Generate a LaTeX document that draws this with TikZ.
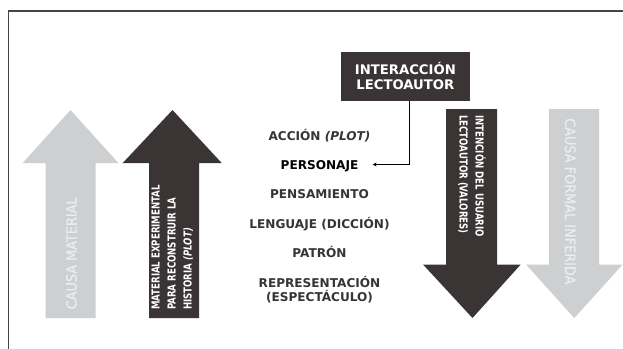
\documentclass[tikz,border=0pt]{standalone}
\usepackage{fontspec}
\setmainfont{DejaVu Sans}
\newfontfamily\condf{DejaVu Sans Condensed}[FakeBold=1.2]
\newfontfamily\narrowf{DejaVu Sans Condensed}[FakeStretch=0.87]
\usetikzlibrary{arrows.meta}
\definecolor{darkfill}{HTML}{3A3435}
\definecolor{lightfill}{HTML}{CDCFD1}
\definecolor{lighttext}{HTML}{EBECED}
\definecolor{labeltext}{HTML}{353535}
\definecolor{framecol}{HTML}{444444}
\begin{document}
\begin{tikzpicture}[x=1pt,y=-1pt,
  lbl/.style={font=\fontsize{12.1}{14}\selectfont\bfseries, text=labeltext, inner sep=0pt, align=center, anchor=base},
  uptext/.style={rotate=90, anchor=base west, inner sep=0pt},
  downtext/.style={rotate=-90, anchor=base west, inner sep=0pt},
  graytext/.style={font=\condf\fontsize{14.3}{16}\selectfont, text=lighttext},
  darktext/.style={font=\narrowf\fontsize{11}{16}\selectfont\bfseries, text=white, align=left}
]
\useasboundingbox (0,0) rectangle (623,348);
\fill[white] (0,0) rectangle (623,348);
% frame
\draw[framecol, line width=1.3pt] (8.3,360) -- (8.3,11) -- (640,11);

% up arrows
\fill[lightfill] (70.5,110) -- (118.3,163) -- (95.7,163) -- (95.7,318) -- (45.7,318) -- (45.7,163) -- (22.7,163) -- cycle;
\fill[darkfill] (172.5,110) -- (221.7,163) -- (199,163) -- (199,318) -- (149,318) -- (149,163) -- (122.7,163) -- cycle;
% down arrows
\fill[darkfill] (446,109) -- (497,109) -- (497,264.5) -- (520.7,264.5) -- (472.5,318) -- (423,264.5) -- (446,264.5) -- cycle;
\fill[lightfill] (549,109) -- (599,109) -- (599,264.5) -- (622.7,264.5) -- (574.3,318) -- (526,264.5) -- (549,264.5) -- cycle;

% arrow texts
\node[uptext, graytext] (cm) at (76.7,309.5) {CAUSA MATERIAL};
\node[uptext, darktext] (me) at (191.5,310) {MATERIAL EXPERIMENTAL\\PARA RECONSTRUIR LA\\HISTORIA \textit{(PLOT)}};
\node[downtext, darktext] (iu) at (459.5,115) {INTENCIÓN DEL USUARIO\\LECTOAUTOR (VALORES)};
\node[downtext, graytext] (cf) at (565,118) {CAUSA FORMAL INFERIDA};

% box
\node[fill=darkfill, text=white, font=\fontsize{13.2}{15.5}\selectfont\bfseries, align=center,
      minimum width=129.3pt, minimum height=49pt, inner sep=0pt] (box) at (405.35,76.2) {INTERACCIÓN\\LECTOAUTOR};

% middle labels
\node[lbl] (acc) at (319.5,140) {ACCIÓN \textit{(PLOT)}};
\node[lbl, text=black] (pers) at (319.5,169) {PERSONAJE};
\node[lbl] (pens) at (319.5,198.3) {PENSAMIENTO};
\node[lbl] (leng) at (319.5,228) {LENGUAJE (DICCIÓN)};
\node[lbl] (pat) at (319.5,257.5) {PATRÓN};
\node[lbl] (rep) at (319.5,301.5) {REPRESENTACIÓN\\(ESPECTÁCULO)};

% connector
\coordinate (cstart) at ([xshift=4pt]box.south);
\coordinate (ctip) at ([xshift=14pt, yshift=4.5pt]pers.base east);
\draw[black, line width=0.8pt, -{Stealth[length=4pt,width=4pt]}] (cstart) |- (ctip);
\end{tikzpicture}
\end{document}
